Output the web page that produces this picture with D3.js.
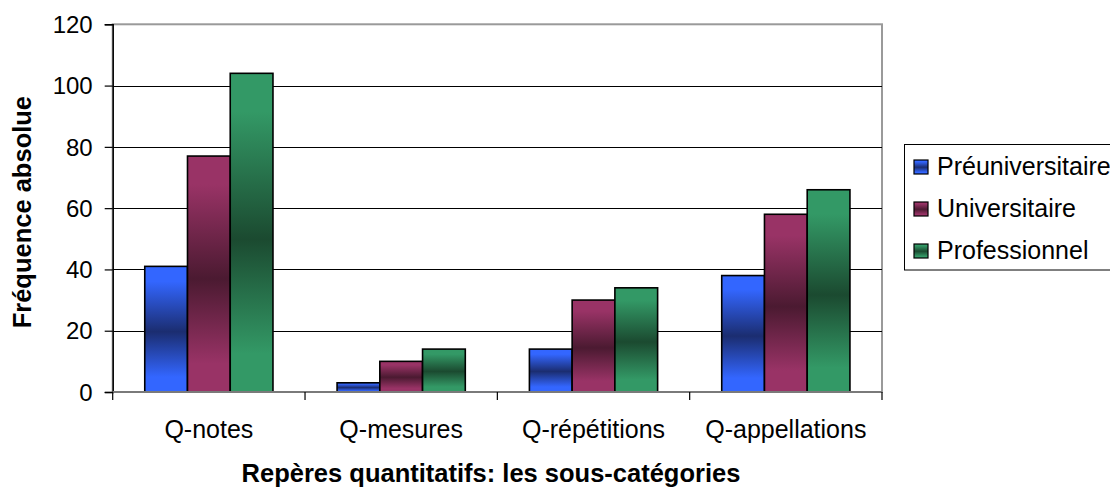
<!DOCTYPE html>
<html>
<head>
<meta charset="utf-8">
<script src="https://cdn.jsdelivr.net/npm/d3@7"></script>
<style>
  html, body { margin: 0; padding: 0; background: #fff; }
  svg { display: block; font-family: "Liberation Sans", Arial, sans-serif; }
</style>
</head>
<body>
<svg id="chart" width="1110" height="489"></svg>
<script>
// Sub-categories on the x axis
const categories = ["Q-notes", "Q-mesures", "Q-répétitions", "Q-appellations"];
// Respondent groups (legend order)
const seriesNames = ["Préuniversitaire", "Universitaire", "Professionnel"];
// Absolute frequency per group, one value per sub-category
const preuniversitaire = [41, 3, 14, 38];
const universitaire = [77, 10, 30, 58];
const professionnel = [104, 14, 34, 66];
const seriesValues = [preuniversitaire, universitaire, professionnel];
// Y axis ticks
const yTicks = [0, 20, 40, 60, 80, 100, 120];

const xTitle = "Repères quantitatifs: les sous-catégories";
const yTitle = "Fréquence absolue";

// light edge colour / dark centre colour for each series
const palette = [
  { light: "#3366ff", dark: "#1b2d70" },
  { light: "#993366", dark: "#4b1a31" },
  { light: "#339966", dark: "#1b4a30" }
];

const svg = d3.select("#chart");
const plot = { left: 112.7, right: 882, top: 24.3, bottom: 392 };

const x0 = d3.scaleBand().domain(categories).range([plot.left, plot.right]).padding(0);
const gap = x0.bandwidth() / 6;
const x1 = d3.scaleBand().domain(d3.range(seriesNames.length))
  .range([gap, x0.bandwidth() - gap]).padding(0);
const y = d3.scaleLinear().domain([0, 120]).range([plot.bottom, plot.top]);

// gradients: light at top and bottom, dark in the middle
const defs = svg.append("defs");
palette.forEach((c, i) => {
  const g = defs.append("linearGradient").attr("id", "grad" + i)
    .attr("x1", 0).attr("y1", 0).attr("x2", 0).attr("y2", 1);
  g.append("stop").attr("offset", "0%").attr("stop-color", c.light);
  g.append("stop").attr("offset", "12%").attr("stop-color", c.light);
  g.append("stop").attr("offset", "52%").attr("stop-color", c.dark);
  g.append("stop").attr("offset", "88%").attr("stop-color", c.light);
  g.append("stop").attr("offset", "100%").attr("stop-color", c.light);
});

// plot area frame (grey)
svg.append("rect")
  .attr("x", plot.left).attr("y", plot.top)
  .attr("width", plot.right - plot.left).attr("height", plot.bottom - plot.top)
  .attr("fill", "none").attr("stroke", "#9a9a9a").attr("stroke-width", 2);

// horizontal gridlines
svg.append("g").selectAll("line")
  .data(yTicks.filter(t => t > 0 && t < 120))
  .join("line")
  .attr("x1", plot.left).attr("x2", plot.right)
  .attr("y1", d => Math.round(y(d)) + 0.5).attr("y2", d => Math.round(y(d)) + 0.5)
  .attr("stroke", "#000").attr("stroke-width", 1);

// bars
const groups = svg.append("g").selectAll("g")
  .data(categories)
  .join("g")
  .attr("transform", d => `translate(${x0(d)},0)`);

groups.selectAll("rect")
  .data((d, ci) => seriesValues.map((vals, si) => ({ si, v: vals[ci] })))
  .join("rect")
  .attr("x", d => x1(d.si))
  .attr("width", x1.bandwidth())
  .attr("y", d => y(d.v))
  .attr("height", d => y(0) - y(d.v))
  .attr("fill", d => `url(#grad${d.si})`)
  .attr("stroke", "#000").attr("stroke-width", 1.6);

// y axis
const yAxis = d3.axisLeft(y).tickValues(yTicks).tickSize(8).tickPadding(12);
const yg = svg.append("g").attr("transform", `translate(${plot.left},0)`).call(yAxis);
yg.select(".domain").attr("stroke", "#000").attr("stroke-width", 1.5);
yg.selectAll(".tick line").attr("stroke", "#000").attr("stroke-width", 1.2);
yg.selectAll(".tick text").attr("font-size", 24).attr("fill", "#000")
  .attr("font-family", "Liberation Sans, Arial, sans-serif").attr("dy", "0.34em");

// x axis (ticks at category boundaries)
const xg = svg.append("g").attr("transform", `translate(0,${plot.bottom})`);
xg.append("line").attr("x1", plot.left).attr("x2", plot.right)
  .attr("y1", 0).attr("y2", 0).attr("stroke", "#7a7a7a").attr("stroke-width", 2);
const boundaries = categories.map(c => x0(c)).concat([x0(categories[categories.length - 1]) + x0.bandwidth()]);
xg.selectAll("line.tk").data(boundaries).join("line").attr("class", "tk")
  .attr("x1", d => d).attr("x2", d => d).attr("y1", 0).attr("y2", 8)
  .attr("stroke", "#000").attr("stroke-width", 1.2);
xg.selectAll("text").data(categories).join("text")
  .attr("x", d => x0(d) + x0.bandwidth() / 2)
  .attr("y", 46)
  .attr("text-anchor", "middle")
  .attr("font-size", 25).attr("fill", "#000")
  .text(d => d);

// axis titles
svg.append("text")
  .attr("x", 491).attr("y", 482)
  .attr("text-anchor", "middle").attr("font-size", 25.5).attr("font-weight", "bold")
  .text(xTitle);
svg.append("text")
  .attr("transform", `translate(31,${(plot.top + plot.bottom) / 2 + 4}) rotate(-90)`)
  .attr("text-anchor", "middle").attr("font-size", 25.5).attr("font-weight", "bold")
  .text(yTitle);

// legend
const legend = svg.append("g");
legend.append("rect")
  .attr("x", 904.5).attr("y", 144.5).attr("width", 240).attr("height", 125.5)
  .attr("fill", "#fff").attr("stroke", "#000").attr("stroke-width", 1);
const items = legend.selectAll("g.item").data(seriesNames).join("g").attr("class", "item")
  .attr("transform", (d, i) => `translate(914,${160 + i * 42})`);
items.append("rect").attr("width", 14).attr("height", 14)
  .attr("fill", (d, i) => `url(#grad${i})`).attr("stroke", "#000").attr("stroke-width", 1.2);
items.append("text").attr("x", 23).attr("y", 14.5)
  .attr("font-size", 25).attr("fill", "#000").text(d => d);
</script>
</body>
</html>
